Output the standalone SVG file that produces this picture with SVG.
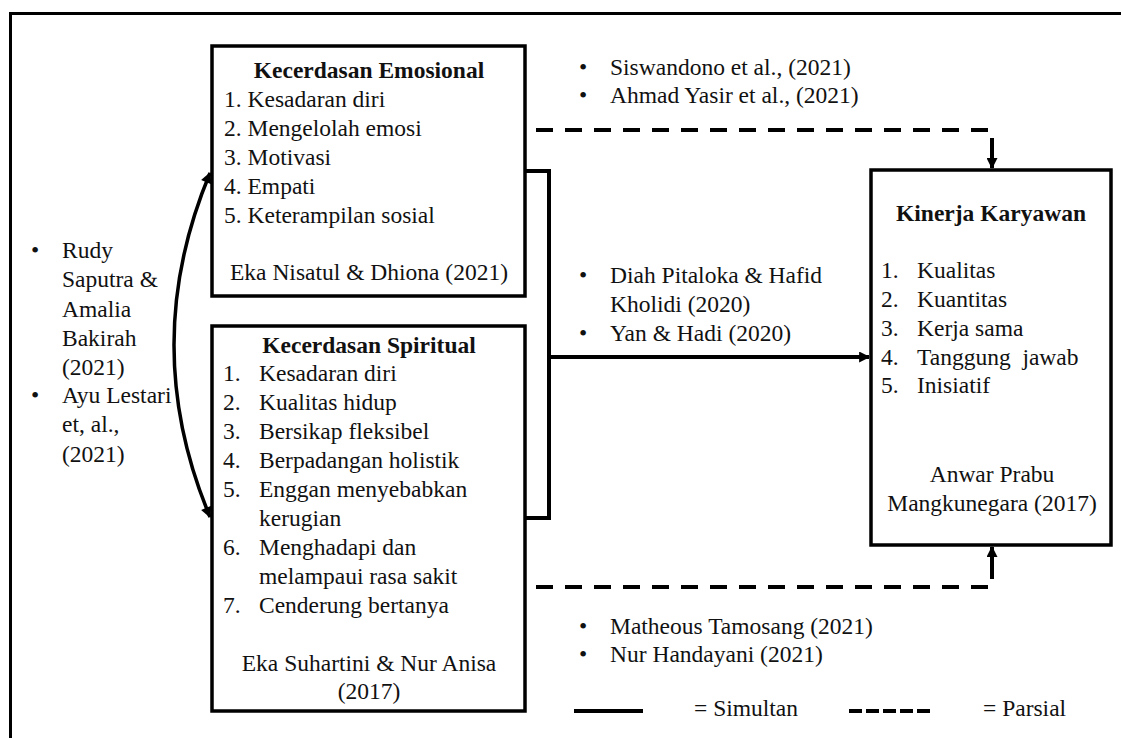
<svg xmlns="http://www.w3.org/2000/svg" width="1121" height="738" viewBox="0 0 1121 738">
<defs>
<style>
text{font-family:"Liberation Serif","Times New Roman",serif;font-size:23.5px;fill:#111}
.b{font-weight:bold}
.m{text-anchor:middle}
.box{fill:#fff;stroke:#000;stroke-width:3.5}
.ln{fill:none;stroke:#000;stroke-width:4}
.ds{fill:none;stroke:#000;stroke-width:4;stroke-dasharray:17 12}
</style>
<marker id="ah" viewBox="0 0 10 10" refX="9" refY="5" markerWidth="12" markerHeight="11" markerUnits="userSpaceOnUse" orient="auto-start-reverse">
<path d="M0,0 L10,5 L0,10 Z" fill="#000"/>
</marker>
</defs>
<rect width="1121" height="738" fill="#fff"/>
<rect x="10.5" y="13.5" width="1200" height="800" fill="none" stroke="#000" stroke-width="3"/>

<g id="connectors">
<path class="ln" d="M524,171 H549 V518 H524"/>
<line class="ln" x1="549" y1="357" x2="869" y2="357" marker-end="url(#ah)"/>
<path class="ds" d="M536,130 H992 V146"/>
<line class="ln" x1="992" y1="146" x2="992" y2="168" marker-end="url(#ah)"/>
<path class="ds" d="M536,587 H992 V569"/>
<line class="ln" x1="992" y1="569" x2="992" y2="547" marker-end="url(#ah)"/>
<path d="M210,173 Q138,345 210,517" fill="none" stroke="#000" stroke-width="3.5" marker-start="url(#ah)" marker-end="url(#ah)"/>
</g>

<g id="ref-left">
<text x="31" y="258">•</text><text x="62" y="258">Rudy</text>
<text x="62" y="287">Saputra &amp;</text>
<text x="62" y="317">Amalia</text>
<text x="62" y="346">Bakirah</text>
<text x="62" y="375">(2021)</text>
<text x="31" y="403">•</text><text x="62" y="403">Ayu Lestari</text>
<text x="62" y="432">et, al.,</text>
<text x="62" y="462">(2021)</text>
</g>

<g id="node-emosional">
<rect class="box" x="212" y="46" width="313" height="250"/>
<text class="b m" x="369" y="78">Kecerdasan Emosional</text>
<text x="224" y="107">1. Kesadaran diri</text>
<text x="224" y="136">2. Mengelolah emosi</text>
<text x="224" y="165">3. Motivasi</text>
<text x="224" y="194">4. Empati</text>
<text x="224" y="223">5. Keterampilan sosial</text>
<text class="m" x="369" y="280">Eka Nisatul &amp; Dhiona (2021)</text>
</g>

<g id="node-spiritual">
<rect class="box" x="212" y="326" width="313" height="385"/>
<text class="b m" x="369" y="353">Kecerdasan Spiritual</text>
<text x="223" y="381">1.</text><text x="259" y="381">Kesadaran diri</text>
<text x="223" y="410">2.</text><text x="259" y="410">Kualitas hidup</text>
<text x="223" y="439">3.</text><text x="259" y="439">Bersikap fleksibel</text>
<text x="223" y="468">4.</text><text x="259" y="468">Berpadangan holistik</text>
<text x="223" y="497">5.</text><text x="259" y="497">Enggan menyebabkan</text>
<text x="259" y="526">kerugian</text>
<text x="223" y="555">6.</text><text x="259" y="555">Menghadapi dan</text>
<text x="259" y="584">melampaui rasa sakit</text>
<text x="223" y="613">7.</text><text x="259" y="613">Cenderung bertanya</text>
<text class="m" x="369" y="671">Eka Suhartini &amp; Nur Anisa</text>
<text class="m" x="369" y="699">(2017)</text>
</g>

<g id="node-kinerja">
<rect class="box" x="871" y="170" width="240" height="375"/>
<text class="b m" x="991" y="221">Kinerja Karyawan</text>
<text x="881" y="278">1.</text><text x="917" y="278">Kualitas</text>
<text x="881" y="307">2.</text><text x="917" y="307">Kuantitas</text>
<text x="881" y="336">3.</text><text x="917" y="336">Kerja sama</text>
<text x="881" y="365">4.</text><text x="917" y="365">Tanggung&#160; jawab</text>
<text x="881" y="393">5.</text><text x="917" y="393">Inisiatif</text>
<text class="m" x="992" y="482">Anwar Prabu</text>
<text class="m" x="992" y="511">Mangkunegara (2017)</text>
</g>

<g id="ref-top">
<text x="579" y="75">•</text><text x="610" y="75">Siswandono et al., (2021)</text>
<text x="579" y="103">•</text><text x="610" y="103">Ahmad Yasir et al., (2021)</text>
</g>
<g id="ref-mid">
<text x="579" y="283">•</text><text x="610" y="283">Diah Pitaloka &amp; Hafid</text>
<text x="610" y="312">Kholidi (2020)</text>
<text x="579" y="341">•</text><text x="610" y="341">Yan &amp; Hadi (2020)</text>
</g>
<g id="ref-bottom">
<text x="579" y="634">•</text><text x="610" y="634">Matheous Tamosang (2021)</text>
<text x="579" y="662">•</text><text x="610" y="662">Nur Handayani (2021)</text>
</g>

<g id="legend">
<line x1="574" y1="711" x2="643" y2="711" stroke="#000" stroke-width="4"/>
<text x="694" y="716">= Simultan</text>
<line x1="849" y1="711" x2="933" y2="711" stroke="#000" stroke-width="4" stroke-dasharray="13 4"/>
<text x="983" y="716">= Parsial</text>
</g>
</svg>
